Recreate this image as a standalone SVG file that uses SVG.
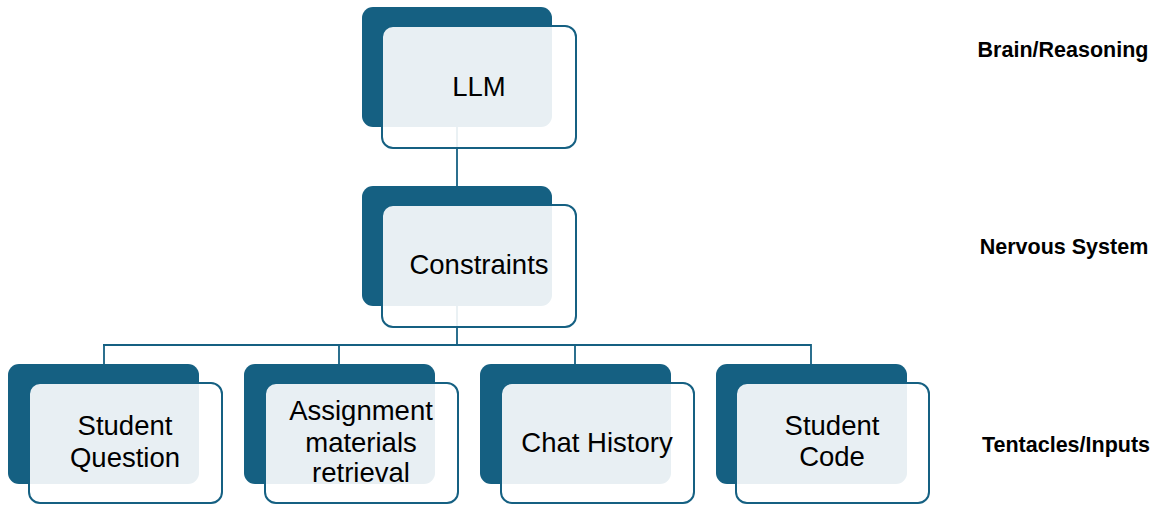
<svg xmlns="http://www.w3.org/2000/svg" width="1161" height="505" viewBox="0 0 1161 505">
  <style>
    .back { fill: #156082; }
    .front { fill: #ffffff; fill-opacity: 0.9; stroke: #156082; stroke-width: 2; }
    .conn { stroke: #156082; stroke-width: 1.8; fill: none; }
    .lbl { font-family: "Liberation Sans", Arial, sans-serif; font-size: 27.5px; fill: #000000; text-anchor: middle; }
    .side { font-family: "Liberation Sans", Arial, sans-serif; font-size: 21.5px; font-weight: bold; fill: #000000; text-anchor: middle; }
  </style>
  <rect width="1161" height="505" fill="#ffffff"/>
  <g id="connectors">
    <line class="conn" x1="457" y1="127" x2="457" y2="186"/>
    <line class="conn" x1="457" y1="306" x2="457" y2="345"/>
    <line class="conn" x1="103" y1="345" x2="811" y2="345"/>
    <line class="conn" x1="104" y1="344" x2="104" y2="364"/>
    <line class="conn" x1="339" y1="344" x2="339" y2="364"/>
    <line class="conn" x1="575" y1="344" x2="575" y2="364"/>
    <line class="conn" x1="811" y1="344" x2="811" y2="364"/>
  </g>
  <g id="node-llm">
    <rect class="back" x="362" y="7" width="190" height="120" rx="11"/>
    <rect class="front" x="382" y="26" width="194" height="122" rx="11"/>
    <text class="lbl" x="479" y="96">LLM</text>
  </g>
  <g id="node-constraints">
    <rect class="back" x="362" y="186" width="190" height="120" rx="11"/>
    <rect class="front" x="382" y="205" width="194" height="122" rx="11"/>
    <text class="lbl" x="479" y="274">Constraints</text>
  </g>
  <g id="node-student-question">
    <rect class="back" x="8" y="364" width="191" height="120" rx="11"/>
    <rect class="front" x="29" y="383" width="193" height="120" rx="11"/>
    <text class="lbl" x="125" y="435">Student</text>
    <text class="lbl" x="125" y="467">Question</text>
  </g>
  <g id="node-assignment">
    <rect class="back" x="244" y="364" width="191" height="120" rx="11"/>
    <rect class="front" x="265" y="383" width="193" height="120" rx="11"/>
    <text class="lbl" x="361" y="420">Assignment</text>
    <text class="lbl" x="361" y="452">materials</text>
    <text class="lbl" x="361" y="482">retrieval</text>
  </g>
  <g id="node-chat-history">
    <rect class="back" x="480" y="364" width="191" height="120" rx="11"/>
    <rect class="front" x="501" y="383" width="193" height="120" rx="11"/>
    <text class="lbl" x="597" y="452">Chat History</text>
  </g>
  <g id="node-student-code">
    <rect class="back" x="716" y="364" width="191" height="120" rx="11"/>
    <rect class="front" x="736" y="383" width="193" height="120" rx="11"/>
    <text class="lbl" x="832" y="435">Student</text>
    <text class="lbl" x="832" y="466">Code</text>
  </g>
  <g id="side-labels">
    <text class="side" x="1063" y="57">Brain/Reasoning</text>
    <text class="side" x="1064" y="254">Nervous System</text>
    <text class="side" x="1066" y="452">Tentacles/Inputs</text>
  </g>
</svg>
